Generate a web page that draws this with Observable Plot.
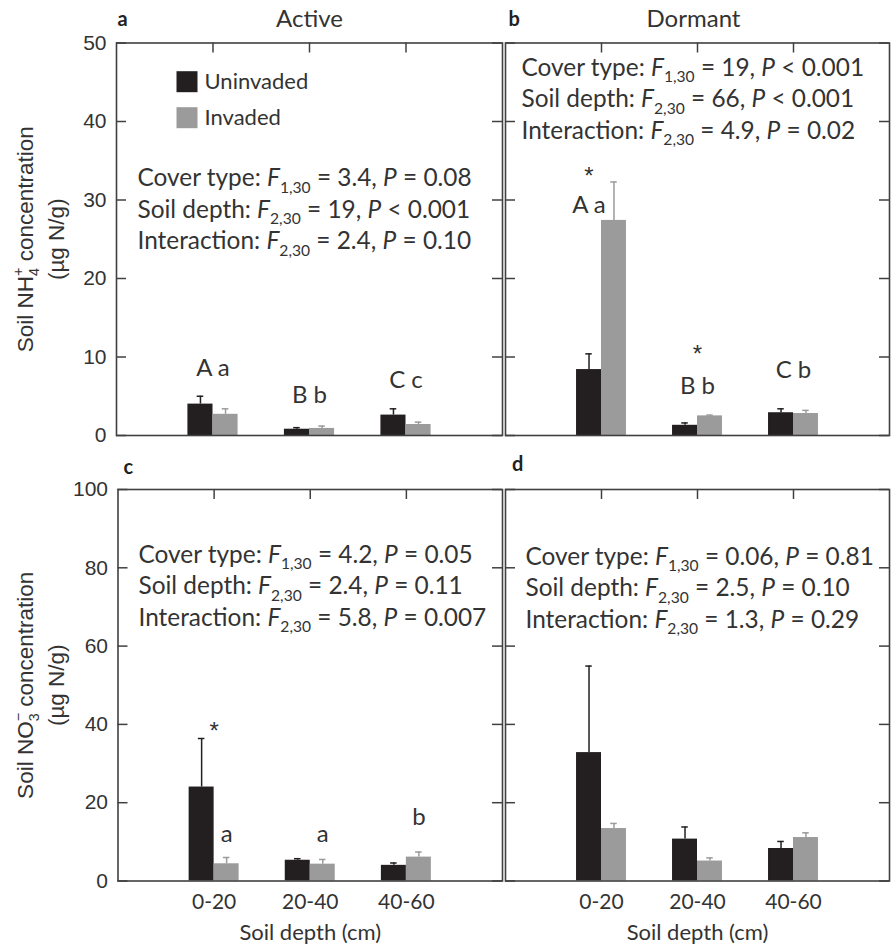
<!DOCTYPE html>
<html>
<head>
<meta charset="utf-8">
<script src="https://cdn.jsdelivr.net/npm/d3@7"></script>
<script src="https://cdn.jsdelivr.net/npm/@observablehq/plot@0.6"></script>
<style>
  body { margin: 0; background: #fff; }
  #chart { position: relative; width: 891px; height: 949px; background: #fff; overflow: hidden; }
  #chart svg { position: absolute; left: 0; top: 0; }
</style>
</head>
<body>
<div id="chart"></div>
<script>
// ---------------- data ----------------
const depths = ["0-20", "20-40", "40-60"];
const covers = ["Uninvaded", "Invaded"];
const coverColors = ["#231f20", "#9b9b9b"];

// a: soil NH4+, active season
const activeNH4Uninvaded   = [4.0, 0.8, 2.6];
const activeNH4UninvadedSE = [1.0, 0.2, 0.8];
const activeNH4Invaded     = [2.7, 0.9, 1.4];
const activeNH4InvadedSE   = [0.7, 0.3, 0.3];
// b: soil NH4+, dormant season
const dormantNH4Uninvaded   = [8.4, 1.3, 2.9];
const dormantNH4UninvadedSE = [2.0, 0.3, 0.5];
const dormantNH4Invaded     = [27.4, 2.5, 2.8];
const dormantNH4InvadedSE   = [4.9, 0.1, 0.4];
// c: soil NO3-, active season
const activeNO3Uninvaded   = [24.0, 5.3, 4.0];
const activeNO3UninvadedSE = [12.4, 0.4, 0.6];
const activeNO3Invaded     = [4.4, 4.3, 6.1];
const activeNO3InvadedSE   = [1.6, 1.2, 1.3];
// d: soil NO3-, dormant season
const dormantNO3Uninvaded   = [32.8, 10.7, 8.3];
const dormantNO3UninvadedSE = [22.1, 3.1, 1.8];
const dormantNO3Invaded     = [13.4, 5.1, 11.1];
const dormantNO3InvadedSE   = [1.3, 0.8, 1.2];

const nh4Ticks = [0, 10, 20, 30, 40, 50];
const no3Ticks = [0, 20, 40, 60, 80, 100];

const statsA = ["Cover type: _F_~1,30~ = 3.4, _P_ = 0.08", "Soil depth: _F_~2,30~ = 19, _P_ < 0.001", "Interaction: _F_~2,30~ = 2.4, _P_ = 0.10"];
const statsB = ["Cover type: _F_~1,30~ = 19, _P_ < 0.001", "Soil depth: _F_~2,30~ = 66, _P_ < 0.001", "Interaction: _F_~2,30~ = 4.9, _P_ = 0.02"];
const statsC = ["Cover type: _F_~1,30~ = 4.2, _P_ = 0.05", "Soil depth: _F_~2,30~ = 2.4, _P_ = 0.11", "Interaction: _F_~2,30~ = 5.8, _P_ = 0.007"];
const statsD = ["Cover type: _F_~1,30~ = 0.06, _P_ = 0.81", "Soil depth: _F_~2,30~ = 2.5, _P_ = 0.10", "Interaction: _F_~2,30~ = 1.3, _P_ = 0.29"];

// significance letters / asterisks: which bar they sit over, and the value they sit at
const lettersA = [
  {depth: "0-20",  over: "pair", at: 7.6, label: "A a"},
  {depth: "20-40", over: "pair", at: 4.1, label: "B b"},
  {depth: "40-60", over: "pair", at: 6.0, label: "C c"}];
const lettersB = [
  {depth: "0-20",  over: "Uninvaded", at: 32.0, label: "*"},
  {depth: "0-20",  over: "Uninvaded", at: 28.3, label: "A a"},
  {depth: "20-40", over: "pair", at: 9.3, label: "*"},
  {depth: "20-40", over: "pair", at: 5.35, label: "B b"},
  {depth: "40-60", over: "pair", at: 7.3, label: "C b"}];
const lettersC = [
  {depth: "0-20",  over: "pair", at: 36.3, label: "*"},
  {depth: "0-20",  over: "Invaded", at: 10.0, label: "a"},
  {depth: "20-40", over: "Invaded", at: 10.0, label: "a"},
  {depth: "40-60", over: "Invaded", at: 14.2, label: "b"}];
const lettersD = [];

const titles = ["Active", "Dormant"];
const panelTags = ["a", "b", "c", "d"];
const yLabelNH4 = ["Soil NH~4~^+^ concentration", "(µg N/g)"];
const yLabelNO3 = ["Soil NO~3~^−^ concentration", "(µg N/g)"];
const xLabel = "Soil depth (cm)";

// ---------------- style / layout ----------------
const W = 891, H = 949;
const BW = 0.26;      // bar width in category units
const CAP = 0.034;    // half width of error caps
const TICK = 10;      // inward tick length, px
const frameColor = "#404040";
const textColor = "#333333";
const calibriLike = "Lato, 'Open Sans', sans-serif";
const arialLike = "'Liberation Sans', Arial, sans-serif";

function panel(cfg) {
  const [L, R, T, B] = cfg.frame;
  const fw = R - L, fh = B - T;
  const rows = depths.flatMap((depth, i) => [
    {depth, pos: i + 1, cover: covers[0], mean: cfg.unin[i], se: cfg.uninSE[i]},
    {depth, pos: i + 1, cover: covers[1], mean: cfg.inv[i], se: cfg.invSE[i]}
  ]);
  const left = d => d.cover === covers[0] ? d.pos - BW : d.pos;
  const center = d => d.cover === covers[0] ? d.pos - BW / 2 : d.pos + BW / 2;
  const letterX = d => {
    const p = depths.indexOf(d.depth) + 1;
    return d.over === "pair" ? p : d.over === covers[0] ? p - BW / 2 : p + BW / 2;
  };
  const tickPos = depths.map((d, i) => i + 1);
  const stars = cfg.letters.filter(d => d.label === "*");
  const letters = cfg.letters.filter(d => d.label !== "*");

  const marks = [
    Plot.rect(rows, {x1: left, x2: d => left(d) + BW, y1: 0, y2: "mean", fill: "cover"}),
    Plot.ruleX(rows, {x: center, y1: "mean", y2: d => d.mean + d.se, stroke: "cover", strokeWidth: 1.5}),
    Plot.ruleY(rows, {y: d => d.mean + d.se, x1: d => center(d) - CAP, x2: d => center(d) + CAP, stroke: "cover", strokeWidth: 1.5}),
    Plot.frame({stroke: frameColor, strokeWidth: 1.6}),
    Plot.ruleX(tickPos, {x: d => d, insetBottom: fh - TICK, stroke: frameColor, strokeWidth: 1.5}),
    Plot.ruleY(cfg.yTicks, {y: d => d, insetRight: fw - TICK, stroke: frameColor, strokeWidth: 1.5}),
    Plot.ruleY(cfg.yTicks, {y: d => d, insetLeft: fw - TICK, stroke: frameColor, strokeWidth: 1.5}),
    Plot.text(letters, {x: letterX, y: "at", text: "label", lineAnchor: "bottom", textAnchor: "middle",
      fontFamily: calibriLike, fontSize: 24, fill: textColor}),
    Plot.text(stars, {x: letterX, y: "at", text: "label", lineAnchor: "bottom", textAnchor: "middle",
      fontFamily: arialLike, fontSize: 24, fill: textColor})
  ];
  cfg.stats.forEach((line, i) => marks.push(
    Plot.text([line], {text: d => d, frameAnchor: "top-left", textAnchor: "start", lineAnchor: "bottom",
      dx: cfg.statsDx, dy: cfg.statsDy + i * 31.6, fontFamily: calibriLike, fontSize: 24.4, fill: textColor})));
  marks.push(Plot.text([cfg.tag], {text: d => d, frameAnchor: "top-left", textAnchor: "start", lineAnchor: "bottom",
    dx: cfg.tagDx, dy: cfg.tagDy, fontFamily: calibriLike, fontWeight: "bold", fontSize: 20, fill: "#222"}));
  if (cfg.title) marks.push(Plot.text([cfg.title], {text: d => d, frameAnchor: "top", textAnchor: "middle", lineAnchor: "bottom",
    dx: cfg.titleDx, dy: -16.5, fontFamily: calibriLike, fontSize: 24, fill: textColor}));
  if (cfg.yLabel) {
    marks.push(
      Plot.text(cfg.yTicks, {y: d => d, text: d => `${d}`, frameAnchor: "left", textAnchor: "end", lineAnchor: "middle",
        dx: -10, fontFamily: arialLike, fontSize: 21, fill: textColor}),
      Plot.text([cfg.yLabel[0]], {text: d => d, frameAnchor: "left", rotate: -90, textAnchor: "middle", lineAnchor: "bottom",
        dx: 32 - L, fontFamily: arialLike, fontSize: 22.5, fill: textColor}),
      Plot.text([cfg.yLabel[1]], {text: d => d, frameAnchor: "left", rotate: -90, textAnchor: "middle", lineAnchor: "bottom",
        dx: 63 - L, fontFamily: arialLike, fontSize: 22.5, fill: textColor}));
  }
  if (cfg.xLabels) {
    marks.push(
      Plot.text(depths, {x: (d, i) => i + 1, text: d => d, frameAnchor: "bottom", textAnchor: "middle", lineAnchor: "middle",
        dy: 21, fontFamily: calibriLike, fontSize: 21, fill: textColor}),
      Plot.text([xLabel], {text: d => d, frameAnchor: "bottom", textAnchor: "middle", lineAnchor: "bottom",
        dy: 59, fontFamily: calibriLike, fontSize: 22, fill: textColor}));
  }
  if (cfg.legend) {
    covers.forEach((c, i) => marks.push(
      Plot.dot([c], {frameAnchor: "top-left", dx: 70.5, dy: 38.7 + i * 36, symbol: "square", r: 11.85,
        fill: coverColors[i], stroke: "none"}),
      Plot.text([c], {text: d => d, frameAnchor: "top-left", textAnchor: "start", lineAnchor: "middle",
        dx: 88, dy: 39 + i * 36, fontFamily: calibriLike, fontSize: 22, fill: textColor})));
  }

  return Plot.plot({
    width: W, height: H,
    marginLeft: L, marginRight: W - R, marginTop: T, marginBottom: H - B,
    x: {domain: [0, 4], axis: null},
    y: {domain: [0, cfg.yTicks[cfg.yTicks.length - 1]], axis: null},
    color: {domain: covers, range: coverColors},
    style: {background: "transparent", overflow: "visible"},
    marks
  });
}

const panels = [
  {frame: [116, 502, 42.5, 435], yTicks: nh4Ticks, unin: activeNH4Uninvaded, uninSE: activeNH4UninvadedSE,
   inv: activeNH4Invaded, invSE: activeNH4InvadedSE, letters: lettersA, stats: statsA, statsDx: 21, statsDy: 143.2,
   tag: panelTags[0], tagDx: 1, tagDy: -17.5, title: titles[0], titleDx: 0, yLabel: yLabelNH4, legend: true},
  {frame: [505, 889, 42.5, 435], yTicks: nh4Ticks, unin: dormantNH4Uninvaded, uninSE: dormantNH4UninvadedSE,
   inv: dormantNH4Invaded, invSE: dormantNH4InvadedSE, letters: lettersB, stats: statsB, statsDx: 16, statsDy: 32.5,
   tag: panelTags[1], tagDx: 3, tagDy: -17.5, title: titles[1], titleDx: -4},
  {frame: [117.5, 502, 489, 880.5], yTicks: no3Ticks, unin: activeNO3Uninvaded, uninSE: activeNO3UninvadedSE,
   inv: activeNO3Invaded, invSE: activeNO3InvadedSE, letters: lettersC, stats: statsC, statsDx: 20.5, statsDy: 73,
   tag: panelTags[2], tagDx: 5.5, tagDy: -16, yLabel: yLabelNO3, xLabels: true},
  {frame: [505, 889, 489, 880.5], yTicks: no3Ticks, unin: dormantNO3Uninvaded, uninSE: dormantNO3UninvadedSE,
   inv: dormantNO3Invaded, invSE: dormantNO3InvadedSE, letters: lettersD, stats: statsD, statsDx: 20, statsDy: 75,
   tag: panelTags[3], tagDx: 6.5, tagDy: -19, xLabels: true}
];

const chart = document.getElementById("chart");
for (const cfg of panels) chart.appendChild(panel(cfg));

// rich text: _italic_, ~subscript~, ^superscript^ (stacked over a preceding subscript)
const NS = "http://www.w3.org/2000/svg";
chart.querySelectorAll("text").forEach(t => {
  const s = t.textContent;
  if (!/[_~^]/.test(s)) return;
  const fs = parseFloat(getComputedStyle(t).fontSize);
  const parts = s.split(/(_[^_]*_|~[^~]*~|\^[^^]*\^)/).filter(p => p !== "");
  t.textContent = "";
  let shift = 0, prevSub = null;
  for (const p of parts) {
    const ts = document.createElementNS(NS, "tspan");
    let txt = p, target = 0;
    const kind = p[0];
    if (kind === "_") { txt = p.slice(1, -1); ts.setAttribute("font-style", "italic"); }
    else if (kind === "~") { txt = p.slice(1, -1); target = 0.27 * fs; ts.setAttribute("font-size", (0.64 * fs).toFixed(2)); }
    else if (kind === "^") { txt = p.slice(1, -1); target = -0.42 * fs; ts.setAttribute("font-size", (0.64 * fs).toFixed(2)); }
    if (target !== shift) { ts.setAttribute("dy", (target - shift).toFixed(2)); shift = target; }
    ts.textContent = txt;
    t.appendChild(ts);
    if (kind === "^" && prevSub) ts.setAttribute("dx", (-prevSub.getComputedTextLength()).toFixed(2));
    prevSub = kind === "~" ? ts : null;
  }
});
</script>
</body>
</html>
